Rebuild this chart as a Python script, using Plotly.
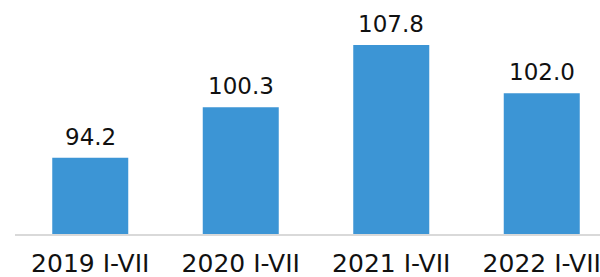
import plotly.graph_objects as go

categories = ["2019 I-VII", "2020 I-VII", "2021 I-VII", "2022 I-VII"]
values = [94.2, 100.3, 107.8, 102.0]
value_labels = ["94.2", "100.3", "107.8", "102.0"]

BAR_COLOR = "#3c95d5"
FONT = "DejaVu Sans"

fig = go.Figure()
fig.add_trace(go.Bar(
    x=categories, y=values, marker_color=BAR_COLOR, width=0.505,
    marker_line_width=0, hoverinfo="skip",
))

for c, v, t in zip(categories, values, value_labels):
    fig.add_annotation(x=c, y=v, text=t, showarrow=False, yanchor="bottom",
                       yshift=6, font=dict(family=FONT, size=23, color="#111111"))

fig.update_layout(
    width=600, height=277,
    margin=dict(l=15, r=0, t=0, b=43),
    paper_bgcolor="white", plot_bgcolor="white",
    showlegend=False,
    xaxis=dict(range=[-0.5, 3.387], showgrid=False, showline=True,
               linecolor="#d9d9d9", linewidth=1.5, ticks="outside",
               ticklen=6, tickcolor="rgba(0,0,0,0)", automargin=False,
               tickfont=dict(family=FONT, size=25, color="#111111")),
    yaxis=dict(range=[85, 113.24], visible=False, showgrid=False,
               zeroline=False, automargin=False),
)

fig.write_html("out.html", config={"displayModeBar": False},
               post_script="document.body.style.margin='0';document.body.style.overflow='hidden';")
